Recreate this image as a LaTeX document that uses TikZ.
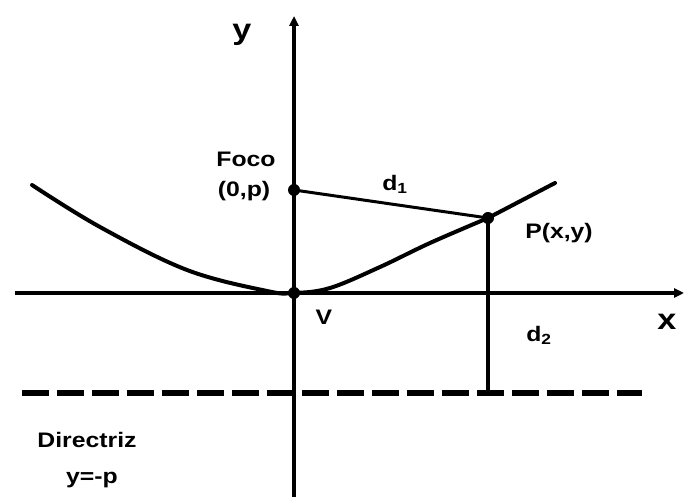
\documentclass[tikz,border=0pt]{standalone}
\usepackage{fontspec}
\setmainfont{Liberation Sans}
\usetikzlibrary{arrows.meta}
\newcommand{\wlbl}[1]{\scalebox{1.18}[1]{#1}}
\begin{document}
\begin{tikzpicture}[x=1pt,y=1pt,
  axis/.style={line width=3.2pt,-{Triangle[length=10pt,width=9pt]}},
  curve/.style={line width=4pt,line cap=round,line join=round},
  dot/.style={circle,fill=black,inner sep=0pt,minimum size=12pt},
  lbl/.style={font=\fontsize{21}{24}\selectfont\bfseries,inner sep=0pt},
  big/.style={font=\fontsize{29}{32}\selectfont\bfseries,inner sep=0pt}]
\useasboundingbox (0,0) rectangle (684,497);
% coordinates
\coordinate (ybot) at (294,0);
\coordinate (ytop) at (294,481);
\coordinate (xl) at (15,204);
\coordinate (xr) at (684,204);
\coordinate (dl) at (22,104);
\coordinate (dr) at (642,104);
\coordinate (D) at (488,104);
% axes
\draw[axis] (xl) -- (xr);
\draw[axis] (ybot) -- (ytop);
% directrix
\draw[line width=5.5pt,dash pattern=on 27pt off 8pt] (dl) -- (dr);
% parabola
\draw[curve] plot[smooth,tension=0.6] coordinates {(32,312) (100,270) (187,227) (267,206) (294,204) (330,209) (380,230) (430,254) (488,279)} -- (555,314);
% points
\node[dot] (V) at (294,204) {};
\node[dot] (F) at (294,307) {};
\node[dot] (P) at (488,279) {};
% distances
\draw[line width=3pt] (F.center) -- (P.center);
\draw[line width=3.6pt] (P.center) -- (D);
% labels
\node[big] (ly) at (242,462) {\wlbl{y}};
\node[big] (lx) at (667,175) {\wlbl{x}};
\node[lbl] (lfoco) at (246,338) {\wlbl{Foco}};
\node[lbl] (l0p) at (244,306) {\wlbl{(0,p)}};
\node[lbl] (ld1) at (395,313) {\wlbl{d$_{\mathbf 1}$}};
\node[lbl] (lP) at (559,264) {\wlbl{P(x,y)}};
\node[lbl] (lV) at (324,180) {\wlbl{V}};
\node[lbl] (ld2) at (539,162) {\wlbl{d$_{\mathbf 2}$}};
\node[lbl] (ldir) at (87,57) {\wlbl{Directriz}};
\node[lbl] (lyp) at (92,17) {\wlbl{y=-p}};
\end{tikzpicture}
\end{document}
